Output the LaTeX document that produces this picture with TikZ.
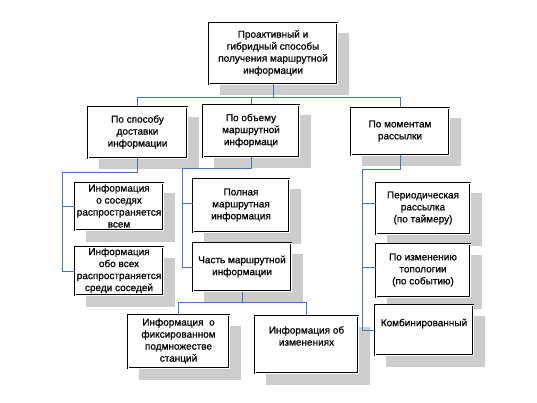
\documentclass[tikz,border=0pt]{standalone}
\usepackage{fontspec}
\setmainfont{Liberation Sans}[BoldFont={Liberation Sans},BoldFeatures={FakeBold=0.8}]
\usetikzlibrary{backgrounds}
\definecolor{conn}{RGB}{70,114,196}
\definecolor{shadowgray}{RGB}{204,204,204}
\newcommand\bt[3][0pt]{\smash{\raisebox{#1}{\parbox[c]{#2}{\centering #3}}}}
\begin{document}
\begin{tikzpicture}[x=1pt,y=-1pt,
  box/.style={draw, line width=1pt, double=white, double distance=0.8pt, fill=white, inner sep=0pt, font=\fontsize{10}{12}\selectfont\bfseries},
  wire/.style={draw=conn, line width=0.8pt}]
\useasboundingbox (0,0) rectangle (537,403);
\node[box, minimum width=128pt, minimum height=61pt] (top) at (273,53.5) {\bt[-2pt]{124pt}{Проактивный и\\гибридный способы\\получения маршрутной\\информации}};
\node[box, minimum width=99pt, minimum height=51pt] (sp) at (137.5,132.5) {\bt[-2pt]{95pt}{По способу\\доставки\\информации}};
\node[box, minimum width=96pt, minimum height=52pt] (ob) at (251,131) {\bt[-2pt]{92pt}{По объему\\маршрутной\\информаци}};
\node[box, minimum width=98pt, minimum height=47pt] (mo) at (400,131.5) {\bt[-2pt]{94pt}{По моментам\\рассылки}};
\node[box, minimum width=88pt, minimum height=47pt] (n1) at (119,206.5) {\bt[-2pt]{86pt}{Информация\\о соседях\\распространяется\\всем}};
\node[box, minimum width=88pt, minimum height=48pt] (n2) at (119,271) {\bt[-2pt]{86pt}{Информация\\обо всех\\распространяется\\среди соседей}};
\node[box, minimum width=96pt, minimum height=53pt] (po) at (241,205.5) {\bt[-2pt]{92pt}{Полная\\маршрутная\\информация}};
\node[box, minimum width=98pt, minimum height=48pt] (ch) at (242,267) {\bt[-2pt]{96pt}{Часть маршрутной\\информации}};
\node[box, minimum width=94pt, minimum height=51pt] (pe) at (423,208.5) {\bt[-2pt]{90pt}{Периодическая\\рассылка\\(по таймеру)}};
\node[box, minimum width=94pt, minimum height=53pt] (iz) at (423,270.5) {\bt[-2pt]{90pt}{По изменению\\топологии\\(по событию)}};
\node[box, minimum width=98pt, minimum height=50pt] (ko) at (424,330) {\bt[4pt]{94pt}{Комбинированный}};
\node[box, minimum width=101pt, minimum height=53pt] (fx) at (178.5,341.5) {\bt[-2pt]{97pt}{Информация\ \ о\\фиксированном\\подмножестве\\станций}};
\node[box, minimum width=103pt, minimum height=57pt] (ic) at (306.5,344.5) {\bt[6pt]{99pt}{Информация об\\изменениях}};
\begin{scope}[on background layer]
\foreach \n in {top,sp,ob,mo,n1,n2,po,ch,pe,iz,ko,fx,ic}
  \fill[shadowgray] ([shift={(11pt,-11pt)}]\n.north west) rectangle ([shift={(11pt,-11pt)}]\n.south east);
\end{scope}
\coordinate (h1) at (0,97);
\coordinate (L) at (62,172);
\coordinate (M) at (182,168);
\coordinate (R) at (362,169);
\coordinate (B) at (0,302);
\coordinate (poW) at ([yshift=2.5pt]po.west);
\coordinate (peW) at ([yshift=5pt]pe.west);
\coordinate (izW) at ([yshift=3.5pt]iz.west);
\draw[wire] (top.south) -- (top.south|-h1);
\draw[wire] (sp.north) -- (sp.north|-h1) -- (mo.north|-h1) -- (mo.north);
\draw[wire] (ob.north) -- (ob.north|-h1);
\draw[wire] (sp.south) -- (sp.south|-L) -- (L) |- (n2.west);
\draw[wire] (L|-n1.west) -- (n1.west);
\draw[wire] (ob.south) -- (ob.south|-M) -- (M) |- (ch.west);
\draw[wire] (M|-poW) -- (poW);
\draw[wire] (mo.south) -- (mo.south|-R) -- (R) |- (ko.west);
\draw[wire] (R|-peW) -- (peW);
\draw[wire] (R|-izW) -- (izW);
\draw[wire] (ch.south) -- (ch.south|-B);
\draw[wire] (fx.north) -- (fx.north|-B) -- (ic.north|-B) -- (ic.north);
\end{tikzpicture}
\end{document}
